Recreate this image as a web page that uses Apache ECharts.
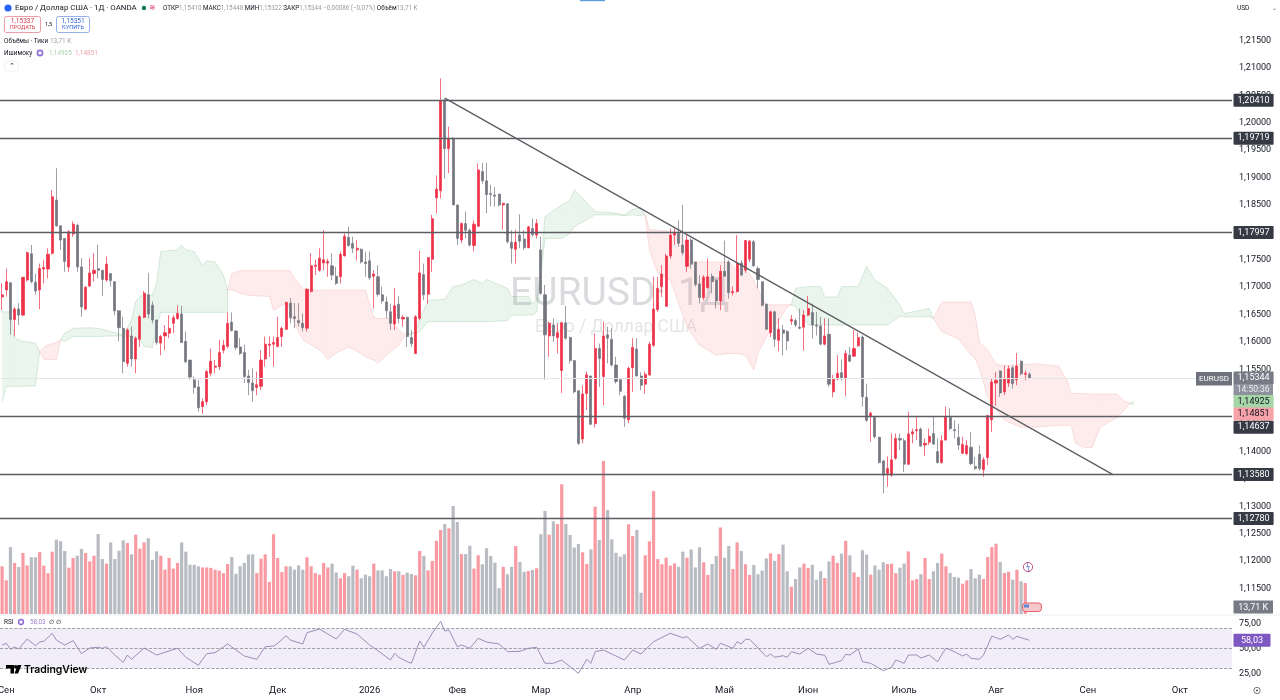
<!DOCTYPE html>
<html><head><meta charset="utf-8">
<style>html,body{margin:0;padding:0;background:#fff}#c{width:1280px;height:700px}</style>
<script src="https://cdn.jsdelivr.net/npm/echarts@6/dist/echarts.min.js"></script>
</head><body><div id="c"></div>
<script>
// Prices are in pips (price x 10000).
const opens=[11682,11695,11708,11641,11660,11649,11713,11761,11709,11695,
11733,11733,11762,11859,11812,11789,11737,11797,11813,11737,
11660,11702,11725,11734,11731,11713,11725,11710,11657,11625,
11561,11611,11569,11605,11645,11686,11667,11640,11598,11611,
11616,11634,11643,11651,11601,11567,11531,11518,11482,11491,
11543,11554,11555,11585,11592,11636,11620,11591,11581,11538,
11525,11517,11519,11569,11594,11596,11592,11610,11623,11671,
11646,11639,11634,11625,11692,11738,11731,11744,11744,11739,
11720,11719,11757,11791,11780,11768,11769,11746,11748,11720,
11719,11686,11673,11655,11633,11669,11642,11645,11608,11579,
11643,11723,11687,11751,11863,11876,12041,11953,11971,11850,
11786,11816,11804,11776,11811,11911,11894,11871,11868,11870,
11850,11852,11782,11769,11795,11788,11772,11807,11795,11768,
11686,11611,11631,11608,11548,11635,11608,11566,11511,11423,
11506,11538,11451,11588,11537,11613,11605,11558,11531,11501,
11458,11553,11587,11538,11523,11540,11594,11659,11701,11665,
11757,11795,11798,11777,11738,11786,11746,11706,11681,11699,
11720,11713,11675,11729,11746,11690,11692,11744,11731,11751,
11783,11734,11710,11669,11617,11655,11603,11622,11619,11638,
11639,11627,11627,11649,11654,11631,11629,11596,11614,11509,
11533,11544,11533,11576,11574,11593,11609,11499,11464,11462,
11426,11383,11360,11357,11388,11424,11420,11377,11432,11438,
11441,11412,11417,11433,11400,11380,11421,11462,11440,11426,
11397,11396,11408,11373,11395,11367,11389,11458,11525,11547,
11509,11525,11553,11531,11565,11541,11541];
const closes=[11686,11710,11641,11660,11649,11718,11763,11710,11693,11734,
11736,11760,11865,11812,11786,11747,11801,11815,11737,11664,
11700,11726,11731,11731,11714,11742,11712,11657,11626,11564,
11622,11569,11607,11646,11689,11651,11640,11599,11610,11617,
11625,11644,11652,11599,11564,11536,11517,11480,11491,11546,
11565,11556,11581,11594,11634,11621,11590,11579,11537,11526,
11511,11522,11567,11596,11596,11599,11608,11625,11672,11644,
11643,11635,11626,11696,11739,11740,11753,11750,11747,11722,
11707,11760,11793,11776,11771,11771,11746,11743,11717,11724,
11687,11675,11657,11634,11666,11643,11645,11610,11597,11646,
11726,11686,11754,11825,11879,12040,11953,11971,11850,11789,
11816,11804,11777,11815,11914,11894,11869,11869,11866,11850,
11853,11783,11771,11782,11784,11772,11810,11796,11816,11689,
11613,11634,11611,11617,11635,11607,11566,11509,11415,11505,
11540,11450,11588,11570,11611,11607,11558,11528,11510,11461,
11552,11590,11538,11521,11541,11596,11660,11698,11724,11757,
11795,11799,11780,11763,11786,11742,11705,11681,11718,11719,
11710,11675,11729,11720,11690,11692,11744,11722,11785,11784,
11739,11714,11667,11623,11655,11605,11623,11616,11602,11641,
11631,11625,11649,11661,11631,11629,11596,11611,11523,11532,
11543,11533,11579,11565,11588,11608,11500,11457,11470,11427,
11380,11357,11369,11385,11424,11421,11377,11432,11436,11440,
11410,11415,11428,11414,11380,11420,11464,11442,11438,11412,
11413,11411,11378,11369,11369,11385,11466,11527,11530,11507,
11533,11551,11524,11556,11542,11543,11534];
const lows=[11658,11683,11613,11610,11631,11647,11710,11707,11686,11660,
11707,11716,11759,11810,11768,11728,11728,11792,11728,11646,
11658,11701,11710,11716,11684,11710,11701,11649,11601,11543,
11555,11555,11543,11591,11643,11643,11634,11595,11576,11585,
11607,11616,11640,11598,11561,11531,11506,11473,11469,11485,
11537,11543,11549,11579,11588,11619,11585,11576,11525,11503,
11491,11503,11513,11555,11573,11555,11590,11591,11622,11634,
11625,11628,11619,11619,11690,11722,11728,11731,11719,11713,
11704,11707,11756,11774,11762,11749,11743,11719,11713,11661,
11683,11670,11643,11622,11622,11634,11628,11591,11591,11578,
11640,11676,11670,11728,11835,11862,11898,11908,11850,11777,
11780,11789,11774,11765,11810,11889,11835,11848,11847,11847,
11805,11780,11743,11743,11771,11768,11771,11792,11789,11686,
11531,11573,11600,11579,11507,11604,11561,11506,11412,11415,
11476,11448,11444,11518,11485,11561,11555,11524,11503,11445,
11452,11509,11537,11512,11506,11538,11591,11655,11682,11664,
11752,11777,11774,11758,11728,11734,11701,11670,11676,11698,
11689,11661,11658,11719,11679,11685,11690,11720,11726,11746,
11737,11698,11665,11623,11609,11591,11583,11576,11585,11631,
11627,11623,11584,11647,11606,11612,11594,11594,11518,11499,
11530,11530,11501,11564,11573,11591,11482,11454,11418,11424,
11378,11324,11336,11354,11385,11403,11363,11375,11415,11421,
11409,11392,11412,11412,11378,11378,11420,11439,11424,11403,
11396,11393,11375,11366,11365,11354,11375,11436,11484,11500,
11503,11518,11515,11521,11539,11530,11532];
const highs=[11707,11734,11708,11664,11671,11718,11765,11777,11725,11743,
11750,11771,11877,11917,11812,11789,11804,11820,11816,11753,
11702,11753,11762,11777,11731,11756,11725,11710,11657,11646,
11625,11628,11610,11649,11693,11726,11674,11641,11613,11631,
11649,11649,11667,11666,11619,11567,11537,11531,11497,11549,
11588,11567,11604,11604,11654,11654,11622,11607,11595,11549,
11552,11546,11585,11610,11610,11610,11646,11628,11674,11680,
11671,11671,11652,11698,11762,11750,11771,11804,11752,11762,
11737,11765,11798,11810,11792,11786,11771,11765,11765,11731,
11740,11701,11683,11670,11698,11683,11649,11646,11622,11649,
11766,11743,11755,11832,11904,12081,12044,11993,11974,11850,
11818,11838,11807,11822,11926,11927,11927,11887,11883,11870,
11854,11853,11804,11805,11833,11804,11812,11825,11824,11792,
11704,11637,11643,11634,11637,11666,11610,11567,11512,11521,
11546,11538,11616,11597,11637,11628,11625,11573,11534,11503,
11555,11607,11607,11545,11546,11600,11719,11719,11740,11761,
11807,11807,11822,11850,11795,11789,11746,11722,11722,11752,
11725,11714,11740,11785,11749,11701,11795,11749,11786,11786,
11786,11738,11710,11670,11657,11657,11643,11631,11622,11649,
11643,11661,11658,11684,11670,11655,11646,11643,11643,11540,
11576,11568,11585,11591,11622,11617,11612,11524,11473,11464,
11427,11385,11391,11433,11433,11433,11424,11473,11442,11464,
11444,11424,11442,11464,11424,11430,11482,11479,11457,11451,
11427,11421,11436,11390,11411,11390,11466,11533,11545,11548,
11557,11557,11557,11580,11566,11548,11545];
// Tick volume, thousands
const volumes=[21.1,14.9,29.6,22.6,20.8,27.0,21.5,25.1,25.1,27.4,
21.4,18.1,27.6,32.9,32.2,27.9,20.5,24.8,25.8,28.8,
27.0,23.3,25.8,35.4,24.3,22.3,31.7,24.3,28.0,32.6,
31.4,26.4,35.1,28.9,31.7,33.5,24.0,27.7,25.8,19.6,
24.8,20.1,22.6,31.7,27.6,21.8,21.8,21.1,20.6,20.6,
20.4,19.6,19.2,18.1,22.1,25.2,17.8,21.1,22.6,26.4,
26.4,18.1,24.5,26.4,14.2,35.3,24.8,18.6,21.1,21.1,
19.6,21.5,19.6,25.1,21.1,18.1,17.4,22.6,20.6,22.3,
18.4,15.8,18.1,16.7,21.4,19.6,15.8,17.4,16.7,22.3,
19.3,19.3,16.7,19.9,18.9,18.9,
17.3,18.3,17.7,17.1,27.9,25.7,19.3,23.5,32.4,37.2,
39.8,37.9,47.8,40.7,26.5,26.5,30.2,20.1,26.0,22.0,
29.1,25.7,22.7,11.4,20.9,17.6,20.9,30.1,23.0,18.7,
19.0,19.5,20.2,35.3,45.6,35.1,41.0,39.8,57.4,39.8,
35.0,29.4,31.0,27.3,22.1,28.6,47.5,32.7,67.7,46.0,
33.0,27.1,25.4,26.4,39.7,34.5,37.2,9.4,26.0,32.2,
54.4,24.3,22.0,24.9,21.4,22.4,20.9,27.6,24.9,28.6,
20.6,29.5,22.9,17.3,22.1,25.7,38.3,24.9,30.1,19.9,
31.7,27.9,22.0,17.3,21.7,17.6,19.2,24.6,26.8,23.5,
26.5,30.7,18.9,12.1,15.5,20.6,
22.3,20.4,21.8,15.2,18.9,15.9,23.3,25.8,22.6,26.7,
32.4,26.0,18.4,16.4,28.2,26.3,17.4,21.5,19.6,22.9,
22.1,22.3,18.1,20.5,22.3,27.7,14.9,15.5,17.6,24.8,
15.5,18.9,22.6,26.7,21.1,18.1,16.4,16.1,13.4,14.9,
19.9,15.8,17.4,15.5,25.2,29.6,31.1,23.0,18.1,18.7,
15.2,19.6,14.5,13.71];
// RSI vertices: bar index and value
const rsiIdx=[0,1,2,3,4,6,8,9,10,12,13,15,17,19,21,23,24,25,27,29,30,31,34,37,39,42,44,47,49,51,54,58,61,63,65,66,68,69,72,73,76,78,80,82,85,88,90,93,94,95,
97,98,100,101,103,105,106,107,109,110,112,114,116,119,121,124,126,128,130,132,134,138,140,141,142,144,149,151,153,156,160,163,164,167,169,171,172,175,176,177,178,179,183,184,185,187,188,189,191,
193,195,197,198,201,202,203,205,206,208,211,213,214,216,217,219,220,222,224,226,228,230,231,232,234,235,237,239,241,242,243,244,246];
const rsiVal=[53.3,55,49,51.3,49.3,59.3,52.6,56.3,57,65,58.3,53.3,57.6,44.6,50.3,51,50,51.6,43.3,36,43.3,39,50.3,43.3,46,50,41,33,44.6,45.6,54.3,42.3,39,51.6,52.3,55,62.6,58.3,54.3,65.6,69.3,64.3,59.3,69,64.3,53.3,47.6,38.3,45,41,
36.6,35,57.3,51,65,77,67.3,68.3,51.6,53.3,50,60,56.3,54.3,46.6,47,50,51,35,35,38.3,25,39,35,46.6,48.3,38.3,48.3,44.3,56.6,65,60.6,61.6,50,54.3,49,55,50,56.6,54.3,59,59,41.6,44.3,41,42.6,41,46.6,44.3,
50,44.3,43,34,37.6,44,43.3,49.3,36.6,35,27.6,31,38.3,35,43.3,43.3,40.3,43.3,36.6,50.3,46.6,42.3,44.3,40,39,43.3,62.3,59,63.3,59,62,60.6,58.03];
// Ichimoku outline vertices, pips
const cloudIdx=[0,1,2,3,5,8,9,10,11,13,14,15,17,21,23,26,29,31,32,33,34,36,37,38,42,43,44,46,48,49,51,53,54,54,55,57,59,64,65,68,69,70,72,76,77,78,80,83,86,87,89,90,93,95,96,97,99,100,102,106,108,110,113,115,116,121,122,126,127,128,129,130,134,136,137,139,142,147,149,151,153,154,155,157,160,162,164,165,167,171,174,176,178,180,181,183,185,188,189,190,193,196,197,200,201,205,207,209,212,215,216,222,223,224,225,229,232,233,234,236,238,240,244,248,253,255,256,257,259,261,263,267,269,270,271];
const spanA=[11655,11655,11655,11607,11601,11598,11582,11568,11568,11568,11604,11616,11625,11626,11625,11619,11613,11640,11674,11683,11685,11686,11707,11765,11768,11777,11768,11765,11740,11748,11746,11722,11695,11695,11695,11689,11685,11683,11658,11671,11658,11634,11604,11585,11579,11568,11580,11591,11579,11573,11567,11561,11582,11594,11607,11613,11619,11640,11676,11678,11701,11704,11714,11707,11714,11698,11683,11683,11670,11677,11731,11829,11850,11859,11878,11862,11838,11835,11832,11842,11845,11830,11768,11725,11713,11670,11628,11616,11594,11576,11579,11579,11576,11549,11579,11609,11628,11664,11668,11698,11701,11701,11682,11682,11701,11701,11738,11713,11698,11667,11652,11661,11643,11631,11619,11606,11576,11570,11551,11500,11478,11457,11444,11445,11448,11448,11448,11415,11408,11407,11445,11462,11478,11488,11492];
const spanB=[11491,11519,11519,11519,11519,11520,11582,11590,11595,11599,11604,11601,11610,11610,11610,11611,11611,11610,11607,11604,11592,11590,11628,11654,11654,11654,11654,11654,11654,11654,11654,11654,11654,11695,11725,11730,11730,11730,11730,11730,11730,11716,11698,11694,11695,11695,11695,11695,11695,11695,11645,11643,11643,11622,11616,11613,11616,11619,11637,11637,11637,11637,11637,11637,11637,11639,11649,11649,11649,11655,11719,11789,11789,11798,11810,11819,11832,11832,11830,11832,11830,11833,11805,11804,11801,11801,11774,11746,11746,11746,11746,11731,11734,11713,11695,11668,11668,11668,11668,11664,11631,11631,11631,11631,11631,11631,11631,11631,11631,11647,11646,11646,11643,11658,11673,11673,11673,11649,11600,11585,11560,11557,11559,11560,11556,11530,11506,11506,11506,11505,11505,11505,11491,11488,11486];
const levels=[1.2041,1.19719,1.17997,1.14637,1.1358,1.1278];
const trendIdx=[106,266];
const trendPrice=[1.2045,1.1358];
const monthIdx=[1,23,46,66,88,109,129,151,173,193,216,238,260,282];
const monthText=['Сен','Окт','Ноя','Дек','2026','Фев','Мар','Апр','Май','Июн','Июль','Авг','Сен','Окт'];
const SLOTS=295;

const font='Roboto, "Noto Sans", sans-serif';
const UP='#ee3147',DOWN='#74767f',VUP='#f99aa3',VDOWN='#b8bbc2',INK='#131722',LINE='#5b5d63';
const cats=[];for(let i=0;i<SLOTS;i++)cats.push(String(i));
const comma=(v,d)=>v.toFixed(d).replace('.',',');
const candle=opens.map((o,i)=>[o/1e4,closes[i]/1e4,lows[i]/1e4,highs[i]/1e4]);
const volData=volumes.map((v,i)=>({value:v,itemStyle:{color:closes[i]>=opens[i]?VUP:VDOWN}}));
const rsiData=rsiIdx.map((x,i)=>[x,rsiVal[i]]);
const cloudRows=[];
for(let i=0;i<cloudIdx.length-1;i++)cloudRows.push([cloudIdx[i],spanA[i]/1e4,spanB[i]/1e4,cloudIdx[i+1],spanA[i+1]/1e4,spanB[i+1]/1e4]);
const tagLabel=(txt,bg,fg,pad,dy)=>({show:true,position:'end',distance:1.5,offset:[0,dy||0],formatter:txt,backgroundColor:bg,color:fg,fontFamily:font,fontSize:9,padding:pad||[2.5,4,1.5,4],borderRadius:1});
const tag=(v,txt,bg,fg,dy)=>({yAxis:v,lineStyle:{color:'rgba(0,0,0,0)',width:0},label:tagLabel(txt,bg,fg,null,dy)});
// The 1,14637 tag sits below its line, pushed down by the tags above it
const hl=levels.map(v=>({yAxis:v,lineStyle:{color:LINE,width:1.3,type:'solid'},label:tagLabel(comma(v,5),'#363a45','#fff',null,v===1.14637?10.5:0)}));

const T=(x,y,text,size,color,extra)=>({type:'text',x,y,z:100,silent:true,style:Object.assign({text,fontSize:size,fontFamily:font,fill:color,verticalAlign:'middle'},extra||{})});
const box=(x,y,w,h,fill,stroke,r)=>({type:'rect',z:99,silent:true,shape:{x,y,width:w,height:h,r:r||0},style:{fill:fill,stroke:stroke||null,lineWidth:stroke?0.8:0}});
const WM='rgba(120,123,134,0.27)';
const wm=(x,y,text,size,fill)=>({type:'text',x,y,z:0,silent:true,style:{text,fontSize:size,fontFamily:font,fill,verticalAlign:'middle'}});
const graphics=[
 // watermark under the candles
 wm(510,295,'EURUSD',39,WM),
 wm(656,295,'·',39,WM),
 wm(678,295,'1Д',39,WM),
 wm(535,328,'Евро / Доллар США',17.5,'rgba(120,123,134,0.2)'),
 // header
 {type:'circle',z:99,silent:true,shape:{cx:8,cy:8,r:3.6},style:{fill:'#2962ff'}},
 T(15,8,'Евро / Доллар США · 1Д · OANDA',7.9,INK),
 {type:'circle',z:99,silent:true,shape:{cx:144,cy:8,r:2.2},style:{fill:'#0c7a5a'}},
 T(149,8,'≋',8,'#d9387e'),
 T(163,8,'{l|ОТКР}{v|1,15410} {l|МАКС}{v|1,15448} {l|МИН}{v|1,15322} {l|ЗАКР}{v|1,15344} {v|−0,00086 (−0,07%)} {l|Объём}{v|13,71 K}',6.3,INK,{rich:{l:{fontSize:6.3,fill:INK,fontFamily:font},v:{fontSize:6.3,fill:'#9a9ca5',fontFamily:font}}}),
 box(4.5,16.5,36,16,'#fff','#e9848f',2),
 T(22.5,21,'1,15337',6.6,'#d9404f',{align:'center'}),
 T(22.5,28,'ПРОДАТЬ',5.6,'#d9404f',{align:'center'}),
 T(48.5,24.5,'1,5',5.8,INK,{align:'center'}),
 box(56.5,16.5,33,16,'#fff','#7c9be6',2),
 T(73,21,'1,15351',6.6,'#3261d9',{align:'center'}),
 T(73,28,'КУПИТЬ',5.6,'#3261d9',{align:'center'}),
 T(4,41,'Объёмы · Тики',6.4,INK),
 T(50,41,'13,71 K',6.4,'#9a9ca5'),
 T(4,53,'Ишимоку',6.4,INK),
 {type:'circle',z:99,silent:true,shape:{cx:40,cy:53,r:2.6},style:{fill:'#fff',stroke:'#8e6bd6',lineWidth:1.6}},
 T(49,53,'1,14925',6.4,'#a8d0ae'),
 T(75,53,'1,14851',6.4,'#f1a3aa'),
 box(4.5,61,14,10,'#fff','#eceef2',2),
 T(11.5,66.5,'⌃',7,INK,{align:'center'}),
 // currency, top marks
 box(580,0,25,1.2,'#5b9be0'),
 T(1237,8,'USD',6.5,INK),
 T(1272,8,'⌄',6,'#555'),
 // price tags beside the last price
 box(1196,372,36,13.5,'#6f727c'),
 T(1214,379,'EURUSD',8,'#fff',{align:'center'}),
 box(1233.5,384,39.5,11,'#8f929c'),
 T(1253.2,389.8,'14:50:36',8.5,'#eceef2',{align:'center'}),
 // volume tag
 box(1233.5,600.5,39.5,13,'#787b86'),
 T(1253.2,607.5,'13,71 K',9,'#fff',{align:'center'}),
 // event icons
 {type:'circle',z:99,silent:true,shape:{cx:1028,cy:567,r:4.6},style:{fill:'#fff',stroke:'#b5457e',lineWidth:0.9}},
 T(1028,567.5,'ϟ',6.5,'#4a57c9',{align:'center'}),
 box(1022.5,603,19,8.5,'#f6c7cc','#e2404f',3),
 box(1024,604.5,5,3,'#5a86d8'),
 // RSI legend
 T(4,622,'RSI',6.4,INK),
 {type:'circle',z:99,silent:true,shape:{cx:21,cy:622,r:2.4},style:{fill:'#fff',stroke:'#8e6bd6',lineWidth:1.5}},
 T(30,622,'58,03',6.4,'#9c84cc'),
 T(49,622,'∅',6,INK),T(56,622,'∅',6,INK),
 // logo
 {type:'polygon',z:101,silent:true,shape:{points:[[6,665],[14,665],[14,673.5],[10.5,673.5],[10.5,668.5],[6,668.5]]},style:{fill:'#000'}},
 {type:'circle',z:101,silent:true,shape:{cx:15.6,cy:666.7,r:1.7},style:{fill:'#000'}},
 {type:'polygon',z:101,silent:true,shape:{points:[[17.5,665],[21.5,665],[18,673.5],[14.5,673.5]]},style:{fill:'#000'}},
 T(24,669.5,'TradingView',10.4,'#000',{fontWeight:'600',fontFamily:'Inter, Roboto, sans-serif'}),
 // settings
 {type:'circle',z:99,silent:true,shape:{cx:1257,cy:690.5,r:3.2},style:{fill:'#fff',stroke:'#555',lineWidth:0.8}},
 {type:'circle',z:99,silent:true,shape:{cx:1257,cy:690.5,r:1},style:{fill:'#555'}},
 // pane divider
 {type:'line',z:1,silent:true,shape:{x1:0,y1:615,x2:1280,y2:615},style:{stroke:'#eceef2',lineWidth:1}}
];

const chart=echarts.init(document.getElementById('c'),null,{renderer:'canvas'});
chart.setOption({
 animation:false,backgroundColor:'#fff',
 graphic:graphics,
 grid:[
  {left:0,right:48,top:0,height:616,outerBoundsMode:'none'},
  {left:0,right:48,top:0,height:614,outerBoundsMode:'none'},
  {left:0,right:48,top:613.3,height:70,outerBoundsMode:'none'}
 ],
 xAxis:[
  {type:'category',gridIndex:0,data:cats,show:false},
  {type:'category',gridIndex:1,data:cats,show:false},
  {type:'category',gridIndex:2,data:cats,axisLine:{show:false},axisTick:{show:false},splitLine:{show:false},
   axisLabel:{margin:2,fontSize:9.5,color:INK,fontFamily:font,hideOverlap:false,
    interval:(i)=>monthIdx.indexOf(i)>=0,
    formatter:(v)=>{const k=monthIdx.indexOf(Number(v));return k>=0?monthText[k]:'';}}}
 ],
 yAxis:[
  {type:'value',gridIndex:0,position:'right',min:1.11,max:1.2224,interval:0.005,
   axisLine:{show:false},axisTick:{show:false},splitLine:{show:false},
   axisLabel:{margin:7,fontSize:9,color:INK,fontFamily:font,showMaxLabel:false,
    formatter:(v)=>(v<1.1149||v>1.2151)?'':comma(v,5)}},
  {type:'value',gridIndex:1,min:0,max:271.7,show:false},
  {type:'value',gridIndex:2,position:'right',min:15,max:85,interval:5,
   axisLine:{show:false},axisTick:{show:false},splitLine:{show:false},
   axisLabel:{margin:7,fontSize:9,color:INK,fontFamily:font,
    formatter:(v)=>(Math.abs(v%25)<1e-6&&v>=25&&v<=75)?comma(v,2):''}}
 ],
 series:[
  {type:'bar',name:'Volume',xAxisIndex:1,yAxisIndex:1,data:volData,barWidth:3.2,z:1,silent:true},
  {type:'custom',name:'Ichimoku',xAxisIndex:0,yAxisIndex:0,z:2,silent:true,data:cloudRows,
   encode:{x:[0,3],y:[1,2,4,5]},
   renderItem:(p,api)=>{
    const a1=api.coord([api.value(0),api.value(1)]),b1=api.coord([api.value(0),api.value(2)]);
    const a2=api.coord([api.value(3),api.value(4)]),b2=api.coord([api.value(3),api.value(5)]);
    const green=(api.value(1)+api.value(4))>=(api.value(2)+api.value(5));
    const fill=green?'rgba(120,190,140,0.16)':'rgba(247,130,130,0.15)';
    const edge=green?'rgba(120,180,130,0.25)':'rgba(230,120,120,0.2)';
    return {type:'group',children:[
     {type:'polygon',shape:{points:[a1,a2,b2,b1]},style:{fill:fill}},
     {type:'line',shape:{x1:a1[0],y1:a1[1],x2:a2[0],y2:a2[1]},style:{stroke:edge,lineWidth:1,fill:null}},
     {type:'line',shape:{x1:b1[0],y1:b1[1],x2:b2[0],y2:b2[1]},style:{stroke:edge,lineWidth:1,fill:null}}
    ]};
   },
   markLine:{silent:true,symbol:'none',animation:false,precision:5,
    data:[{yAxis:1.15344,lineStyle:{color:'#e4e5e9',width:1,type:'solid'},label:tagLabel('1,15344','#787b86','#fff')}]}},
  {type:'candlestick',name:'EURUSD',xAxisIndex:0,yAxisIndex:0,data:candle,barWidth:2.6,z:3,silent:true,
   itemStyle:{color:UP,color0:DOWN,borderColor:UP,borderColor0:DOWN,borderWidth:0.7},
   markLine:{silent:true,symbol:'none',animation:false,precision:5,
    data:[
     ...hl,
     tag(1.14925,'1,14925','#a5d6a7',INK,0.7),
     tag(1.14851,'1,14851','#f7a1a8',INK,9)
    ]}},
  {type:'line',name:'Trend',xAxisIndex:0,yAxisIndex:0,z:5,silent:true,symbol:'none',showSymbol:false,
   data:trendIdx.map((x,i)=>[x,trendPrice[i]]),lineStyle:{color:LINE,width:1.3}},
  {type:'line',name:'RSI',xAxisIndex:2,yAxisIndex:2,data:rsiData,symbol:'none',showSymbol:false,silent:true,z:4,
   lineStyle:{color:'#9b8eb6',width:1},
   markArea:{silent:true,itemStyle:{color:'rgba(126,87,194,0.1)'},data:[[{yAxis:30},{yAxis:70}]]},
   markLine:{silent:true,symbol:'none',animation:false,precision:2,
    lineStyle:{color:'#8c8e96',type:'dashed',width:0.8},
    data:[{yAxis:70,label:{show:false}},{yAxis:50,label:{show:false}},{yAxis:30,label:{show:false}},
     {yAxis:58.03,lineStyle:{color:'rgba(0,0,0,0)',width:0},label:tagLabel('58,03','#7e57c2','#fff',[2.5,7.5,1.5,7.5])}]}}
 ]
});
if(opens.length!==247||closes.length!==247||lows.length!==247||highs.length!==247||spanA.length!==cloudIdx.length||spanB.length!==cloudIdx.length||rsiIdx.length!==rsiVal.length)
 console.error('len',opens.length,closes.length,lows.length,highs.length,volumes.length,cloudIdx.length,spanA.length,spanB.length,rsiIdx.length,rsiVal.length);
</script></body></html>
